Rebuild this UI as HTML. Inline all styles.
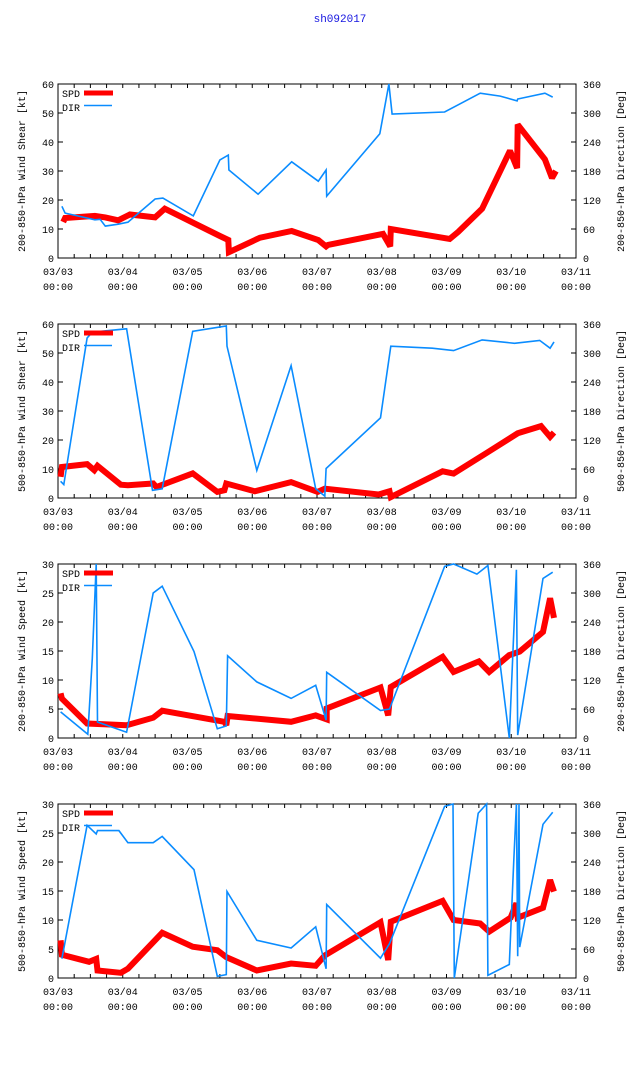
<!DOCTYPE html>
<html><head><meta charset="utf-8"><style>
html,body{margin:0;padding:0;background:#fff;}
svg text{font-family:"Liberation Mono","DejaVu Sans Mono",monospace;font-size:10px;fill:#000;}
</style></head><body>
<svg id="chart" width="640" height="1060" xmlns="http://www.w3.org/2000/svg">
<text x="340" y="22" text-anchor="middle" style="fill:#1515e0;font-size:11px">sh092017</text>
</svg>
<script>
// x axis: days since 03/03 00:00
const xTickLabels = ["03/03","03/04","03/05","03/06","03/07","03/08","03/09","03/10","03/11"];
const leftTitles = ["200-850-hPa Wind Shear [kt]","500-850-hPa Wind Shear [kt]","200-850-hPa Wind Speed [kt]","500-850-hPa Wind Speed [kt]"];
const rightTitles = ["200-850-hPa Direction [Deg]","500-850-hPa Direction [Deg]","200-850-hPa Direction [Deg]","500-850-hPa Direction [Deg]"];
const leftMax = [60,60,30,30];
const leftTicks = [[0,10,20,30,40,50,60],[0,10,20,30,40,50,60],[0,5,10,15,20,25,30],[0,5,10,15,20,25,30]];
const rightTicks = [0,60,120,180,240,300,360];

const spd1Days = [0.08,0.11,0.57,0.73,0.93,1.11,1.5,1.65,2.5,2.63,2.64,3.12,3.61,4.02,4.14,4.17,5.02,5.13,5.14,6.05,6.18,6.55,6.98,7.09,7.1,7.52,7.63,7.69];
const spd1Vals = [12.4,13.8,14.5,14,13,15,14,17,7.6,6.2,2,7,9.3,6.2,4,4.5,8.3,4,10,6.6,9,17,37,31,46,34,27.6,30];
const dir1Days = [0.06,0.11,0.57,0.65,0.73,0.93,1.08,1.5,1.62,2.09,2.5,2.63,2.64,3.09,3.61,4.02,4.14,4.15,4.97,5.11,5.16,5.97,6.18,6.52,6.83,7.09,7.1,7.52,7.64];
const dir1Vals = [107,93,79,80,66,70,74,122,124,87,203,213,182,132,199,159,182,128,257,360,298,302,317,341,335,325,329,341,333];

const spd2Days = [0.04,0.06,0.45,0.56,0.61,0.97,1.08,1.47,1.52,2.08,2.46,2.57,2.6,3.04,3.6,4.01,4.12,4.95,5.12,5.14,5.94,6.11,6.63,7.1,7.46,7.6,7.66];
const spd2Vals = [7.3,10.7,11.7,9.6,11.1,4.6,4.4,5,3.8,8.5,2.1,2.7,5,2.3,5.5,2.1,3.2,1.2,2.3,0.3,9.2,8.4,15.7,22.3,24.8,21.1,22.6];
const dir2Days = [0.04,0.09,0.45,0.53,1.06,1.46,1.61,2.08,2.6,2.61,3.07,3.6,3.98,4.12,4.14,4.98,5.14,5.78,6.11,6.55,7.05,7.44,7.6,7.66];
const dir2Vals = [34.6,27.7,331,343,350,16,19,345,356,314,57,274,19,4,61,166,314,310,305,327,320,326,310,323];

const spd3Days = [0.04,0.06,0.45,1.06,1.47,1.61,2.57,2.6,2.62,3.6,3.98,4.15,4.15,4.98,5.1,5.14,5.94,6.11,6.5,6.66,6.97,7.13,7.49,7.6,7.66];
const spd3Vals = [7.7,6.8,2.5,2.2,3.5,4.7,2.8,2.2,3.8,2.8,3.9,3.2,5.1,8.7,3.9,8.8,14,11.4,13.2,11.4,14.3,14.9,18.3,24.1,20.7];
const dir3Days = [0.04,0.46,0.53,0.59,0.61,1.06,1.47,1.61,2.1,2.46,2.6,2.62,3.07,3.6,3.98,4.14,4.15,4.98,5.12,5.97,6.11,6.47,6.64,6.97,7.08,7.1,7.49,7.64];
const dir3Vals = [54,7.6,165,360,33,12,300,314,179,19,25,170,116,82,109,37,136,57,60,355,360,339,357,0,348,6,330,343];

const spd4Days = [0.04,0.06,0.48,0.59,0.61,0.97,1.08,1.61,2.08,2.46,2.6,3.07,3.6,3.98,4.12,4.98,5.1,5.14,5.94,6.11,6.52,6.66,6.99,7.08,7.1,7.49,7.6,7.66];
const spd4Vals = [6.5,4,2.8,3.3,1.3,0.9,1.6,7.8,5.4,4.8,3.6,1.3,2.5,2.1,3.9,9.6,3.1,9.7,13.3,10,9.4,8,10.4,12.9,10.4,12.1,16.9,14.9];
const dir4Days = [0.06,0.45,0.59,0.61,0.94,1.08,1.47,1.61,2.1,2.46,2.6,2.61,3.07,3.6,3.98,4.14,4.15,4.98,5.12,5.97,6.1,6.12,6.49,6.62,6.64,6.97,7.04,7.08,7.1,7.12,7.13,7.49,7.64];
const dir4Vals = [40,316,298,305,305,280,280,293,224,3.5,7,179,78,62,106,19,152,41,71,355,360,0,341,360,5.5,28,244,360,45,360,64,318,343];

const spdDays = [spd1Days,spd2Days,spd3Days,spd4Days];
const spdVals = [spd1Vals,spd2Vals,spd3Vals,spd4Vals];
const dirDays = [dir1Days,dir2Days,dir3Days,dir4Days];
const dirVals = [dir1Vals,dir2Vals,dir3Vals,dir4Vals];

const svg = document.getElementById('chart');
const NS = 'http://www.w3.org/2000/svg';
const L = 58, R = 576, H = 174;
const tops = [84,324,564,804];
function mk(tag, attrs, parent){
  const e = document.createElementNS(NS, tag);
  for (const k in attrs) e.setAttribute(k, attrs[k]);
  (parent||svg).appendChild(e); return e;
}
function xs(d){ return L + (R-L)*d/8; }

for (let p=0;p<4;p++){
  const T = tops[p], B = T+H;
  const g = mk('g',{});
  
  
  const ysL = v => B - H*v/leftMax[p];
  const ysR = v => B - H*v/360;
  const fr = mk('rect',{x:L,y:T,width:R-L,height:H,fill:'none',stroke:'#000','stroke-width':1},g);
  
  
  for (let i=0;i<=32;i++){
    const x = xs(i/4), len = 4;
    mk('line',{x1:x,y1:B,x2:x,y2:B-len,stroke:'#000'},g);
    mk('line',{x1:x,y1:T,x2:x,y2:T+len,stroke:'#000'},g);
  }
  xTickLabels.forEach((lab,i)=>{
    const t = mk('text',{x:xs(i),y:B+17,'text-anchor':'middle'},g);
    t.textContent = lab;
    
    
    const t2 = mk('text',{x:xs(i),y:B+32,'text-anchor':'middle'},g);
    t2.textContent = '00:00';
    
    
  });
  leftTicks[p].forEach(v=>{
    const y = ysL(v);
    mk('line',{x1:L,y1:y,x2:L+5,y2:y,stroke:'#000'},g);
    const t = mk('text',{x:L-4,y:y+4,'text-anchor':'end'},g);
    t.textContent = v;
    
    
  });
  rightTicks.forEach(v=>{
    const y = ysR(v);
    mk('line',{x1:R,y1:y,x2:R-5,y2:y,stroke:'#000'},g);
    const t = mk('text',{x:R+7,y:y+4,'text-anchor':'start'},g);
    t.textContent = v;
    
    
  });
  const lt = mk('text',{x:0,y:0,'text-anchor':'middle',transform:`translate(25,${T+H/2}) rotate(-90)`},g);
  lt.textContent = leftTitles[p];
  
  
  const rt = mk('text',{x:0,y:0,'text-anchor':'middle',transform:`translate(624,${T+H/2}) rotate(-90)`},g);
  rt.textContent = rightTitles[p];
  
  
  const spdPts = spdDays[p].map((d,i)=>xs(d).toFixed(1)+','+ysL(spdVals[p][i]).toFixed(1)).join(' ');
  const sp = mk('polyline',{points:spdPts,fill:'none',stroke:'#ff0000','stroke-width':6,'stroke-linejoin':'miter','stroke-miterlimit':2},g);
  
  
  const dirPts = dirDays[p].map((d,i)=>xs(d).toFixed(1)+','+ysR(dirVals[p][i]).toFixed(1)).join(' ');
  const dp = mk('polyline',{points:dirPts,fill:'none',stroke:'#0a8cff','stroke-width':1.6},g);
  
  
  const ls = mk('text',{x:62,y:T+13},g); ls.textContent='SPD';
  
  
  const ll = mk('line',{x1:84,y1:T+9,x2:113,y2:T+9,stroke:'#ff0000','stroke-width':5},g);
  
  
  const ld = mk('text',{x:62,y:T+27},g); ld.textContent='DIR';
  
  
  const ldl = mk('line',{x1:84,y1:T+21.5,x2:112,y2:T+21.5,stroke:'#0a8cff','stroke-width':1.6},g);
  
  
}
</script>
</body></html>
